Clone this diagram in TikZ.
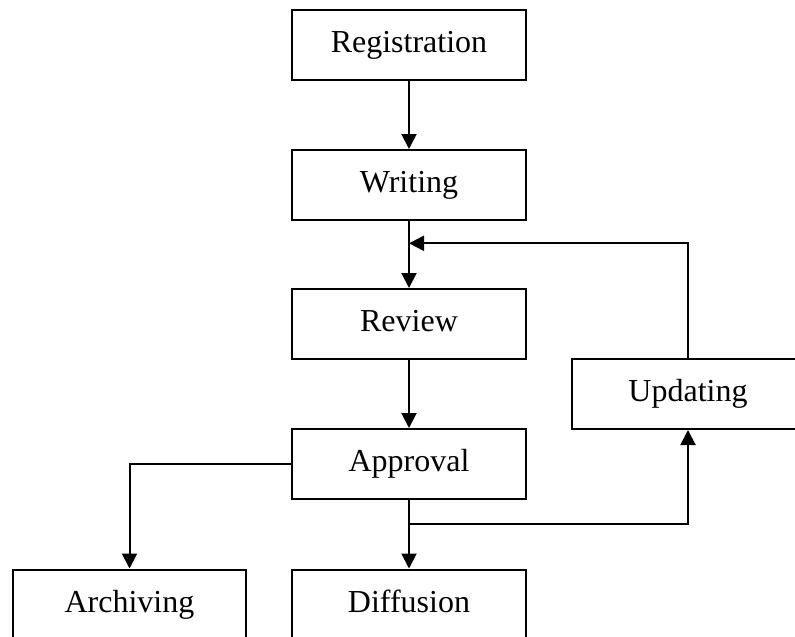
\documentclass[tikz,border=0pt]{standalone}
\usepackage{fontspec}
\setmainfont{Liberation Serif}
\usetikzlibrary{arrows.meta,calc}
\begin{document}
\begin{tikzpicture}[x=1pt,y=-1pt,
  box/.style={draw=black,line width=2pt,rectangle,minimum width=234pt,minimum height=70pt,inner sep=0pt,
    text height=22pt,text depth=7pt,font=\fontsize{32}{36}\selectfont},
  conn/.style={line width=2pt,-{Triangle[length=15pt,width=15pt]}}]
\useasboundingbox (0,0) rectangle (795,637);
\clip (0,0) rectangle (795,637);
\node[box] (reg) at (409,44.5) {Registration};
\node[box] (wri) at (409,185) {Writing};
\node[box] (rev) at (409,324) {Review};
\node[box,minimum width=232pt] (upd) at (688,394) {Updating};
\node[box] (app) at (409,464) {Approval};
\node[box,minimum width=233pt] (arc) at (129.5,604.5) {Archiving};
\node[box] (dif) at (409,604.5) {Diffusion};
\draw[conn] (reg) -- (wri);
\draw[conn] (wri) -- (rev);
\coordinate (fb) at ($(wri.south)!0.333!(rev.north)$);
\draw[conn] (upd.north) |- (fb);
\draw[conn] (rev) -- (app);
\draw[conn] (app.west) -| (arc.north);
\draw[conn] (app) -- (dif);
\coordinate (jn) at ($(app.south)!0.343!(dif.north)$);
\draw[conn] (jn) -| (upd.south);
\end{tikzpicture}
\end{document}
